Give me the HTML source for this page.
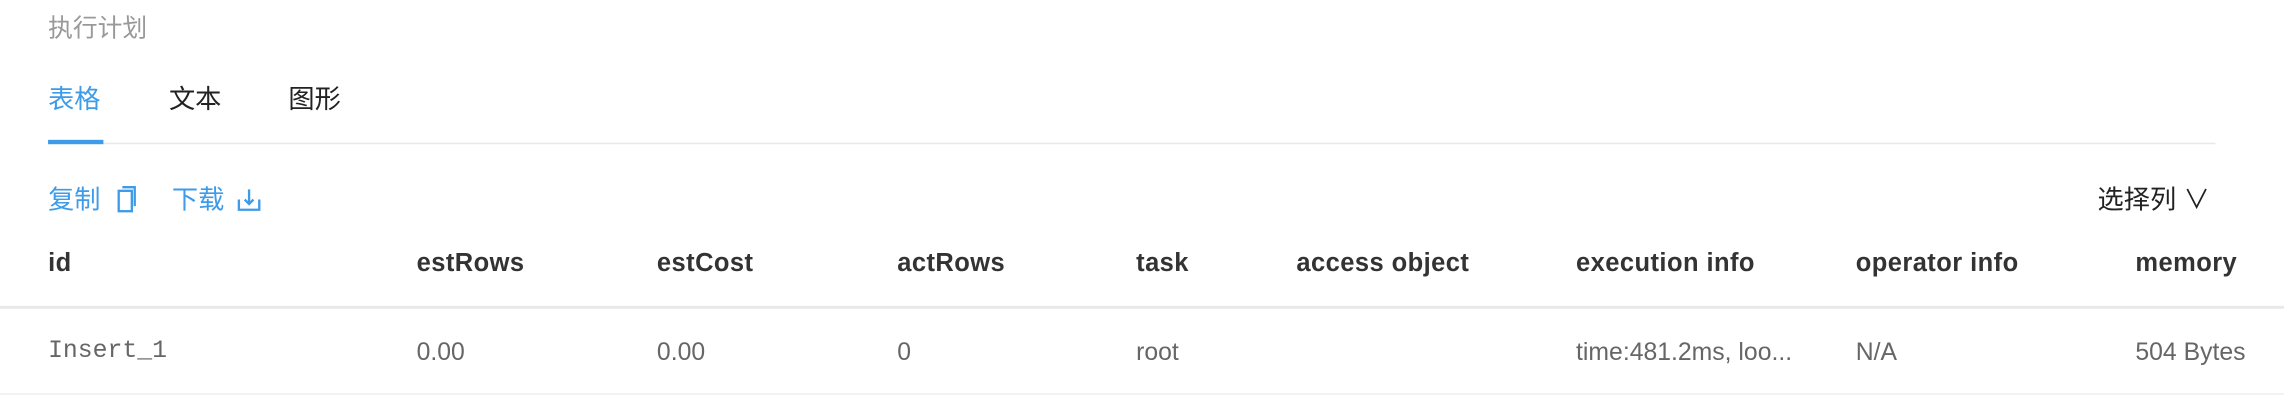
<!DOCTYPE html>
<html><head><meta charset="utf-8"><style>
html,body{margin:0;padding:0;background:#fff;width:2284px;height:410px;overflow:hidden}
#w{position:absolute;left:0;top:0;width:1568px;height:282px;transform:scale(1.4566);transform-origin:0 0;font-family:"Liberation Sans","Noto Sans CJK SC",sans-serif}
.a{position:absolute;white-space:nowrap;line-height:1}
.h{font-size:17.5px;font-weight:bold;color:#333;top:172px;letter-spacing:0.3px}
.r{font-size:17px;color:#666;top:233px}
.blue{color:#3d9be9}
</style></head><body><div id="w">
<div class="a" style="left:33px;top:11px;font-size:17px;color:#999">执行计划</div>
<div class="a blue" style="left:33px;top:59px;font-size:18px">表格</div>
<div class="a" style="left:116px;top:59px;font-size:18px;color:#222">文本</div>
<div class="a" style="left:198px;top:59px;font-size:18px;color:#222">图形</div>
<div class="a" style="left:33px;top:98px;width:1488px;height:1px;background:#e8e8e8"></div>
<div class="a" style="left:33px;top:96px;width:38px;height:3px;background:#3d9be9"></div>
<div class="a blue" style="left:33px;top:128px;font-size:18px">复制</div>
<svg class="a" style="left:79px;top:127px" width="16" height="20" viewBox="0 0 16 20"><rect x="2.5" y="4" width="9" height="14" fill="none" stroke="#3d9be9" stroke-width="1.6"/><path d="M5 1.5h8.5v13" fill="none" stroke="#3d9be9" stroke-width="1.6"/></svg>
<div class="a blue" style="left:118px;top:128px;font-size:18px">下载</div>
<svg class="a" style="left:162px;top:128px" width="18" height="18" viewBox="0 0 18 18"><path d="M2 9v7h14V9M9 2v10M6 9l3 3 3-3" fill="none" stroke="#3d9be9" stroke-width="1.6"/></svg>
<div class="a" style="left:1440px;top:128px;font-size:18px;color:#222">选择列 ∨</div>
<div class="a h" style="left:33px">id</div>
<div class="a h" style="left:286px">estRows</div>
<div class="a h" style="left:451px">estCost</div>
<div class="a h" style="left:616px">actRows</div>
<div class="a h" style="left:780px">task</div>
<div class="a h" style="left:890px">access object</div>
<div class="a h" style="left:1082px">execution info</div>
<div class="a h" style="left:1274px">operator info</div>
<div class="a h" style="left:1466px">memory</div>
<div class="a" style="left:0;top:210px;width:1568px;height:1.5px;background:#e8e8e8"></div>
<div class="a r" style="left:33px;font-family:'Liberation Mono',monospace;font-size:17px">Insert_1</div>
<div class="a r" style="left:286px">0.00</div>
<div class="a r" style="left:451px">0.00</div>
<div class="a r" style="left:616px">0</div>
<div class="a r" style="left:780px">root</div>
<div class="a r" style="left:1082px">time:481.2ms, loo...</div>
<div class="a r" style="left:1274px">N/A</div>
<div class="a r" style="left:1466px">504 Bytes</div>
<div class="a" style="left:0;top:270px;width:1568px;height:1px;background:#eee"></div>
</div></body></html>
